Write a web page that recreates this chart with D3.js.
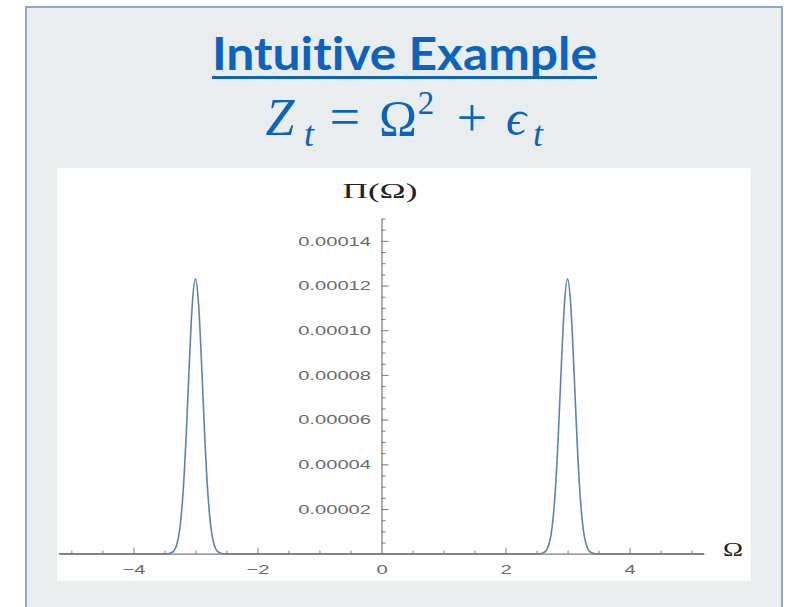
<!DOCTYPE html>
<html>
<head>
<meta charset="utf-8">
<script src="https://cdn.jsdelivr.net/npm/d3@7"></script>
<style>
  html, body { margin: 0; padding: 0; background: #ffffff; }
  svg { display: block; }
</style>
</head>
<body>
<div id="chart"></div>
<script>
// ---- data ----
const titleText = "Intuitive Example";
const yAxisLabel = "Π(Ω)";
const xAxisLabel = "Ω";

// x positions (Ω) of the plotted curve points
const omegaValues = [
  -5.2,
  -3.45, -3.40, -3.35, -3.30, -3.25, -3.20, -3.15, -3.10, -3.05, -3.00,
  -2.95, -2.90, -2.85, -2.80, -2.75, -2.70, -2.65, -2.60, -2.55,
  2.55, 2.60, 2.65, 2.70, 2.75, 2.80, 2.85, 2.90, 2.95, 3.00,
  3.05, 3.10, 3.15, 3.20, 3.25, 3.30, 3.35, 3.40, 3.45,
  5.2
];
// Π(Ω) values at those points
const piValues = [
  0,
  0, 0.0000003, 0.0000012, 0.0000041, 0.0000116, 0.0000271, 0.0000525, 0.0000843, 0.0001119, 0.000123,
  0.0001119, 0.0000843, 0.0000525, 0.0000271, 0.0000116, 0.0000041, 0.0000012, 0.0000003, 0,
  0, 0.0000003, 0.0000012, 0.0000041, 0.0000116, 0.0000271, 0.0000525, 0.0000843, 0.0001119, 0.000123,
  0.0001119, 0.0000843, 0.0000525, 0.0000271, 0.0000116, 0.0000041, 0.0000012, 0.0000003, 0,
  0
];

const xMajorTicks = [-4, -2, 0, 2, 4];
const xMinorTicks = [-5, -4.5, -3.5, -3, -2.5, -1.5, -1, -0.5, 0.5, 1, 1.5, 2.5, 3, 3.5, 4.5, 5];
const yMajorTicks = [0.00002, 0.00004, 0.00006, 0.00008, 0.00010, 0.00012, 0.00014];
const yMinorTicks = [0.000005, 0.00001, 0.000015, 0.000025, 0.00003, 0.000035, 0.000045, 0.00005, 0.000055,
  0.000065, 0.00007, 0.000075, 0.000085, 0.00009, 0.000095, 0.000105, 0.00011, 0.000115,
  0.000125, 0.00013, 0.000135, 0.000145, 0.00015];

// ---- drawing ----
const W = 792, H = 607;
const blue = "#0b63c1";
const svg = d3.select("#chart").append("svg").attr("width", W).attr("height", H);

// slide panel
svg.append("rect")
  .attr("x", 26).attr("y", 7).attr("width", 756).attr("height", 640)
  .attr("fill", "#e9edee").attr("stroke", "#8ea8c9").attr("stroke-width", 2);

// title
svg.append("text")
  .attr("x", 404.5).attr("y", 70)
  .attr("text-anchor", "middle")
  .attr("font-family", "Lato, 'Open Sans', sans-serif")
  .attr("font-weight", "bold")
  .attr("font-size", 46)
  .style("font-variant-ligatures", "none")
  .attr("fill", blue)
  .attr("textLength", 385).attr("lengthAdjust", "spacingAndGlyphs")
  .text(titleText);
svg.append("rect")
  .attr("x", 404.5 - 385 / 2).attr("y", 76).attr("width", 385).attr("height", 3)
  .attr("fill", blue);

// equation  Z_t = Ω^2 + ϵ_t
const eq = svg.append("g").attr("fill", blue).attr("font-family", "'Liberation Serif', 'DejaVu Serif', serif");
const eqParts = [
  { t: "Z", cx: 280, y: 135, size: 52, italic: true },
  { t: "t", cx: 309, y: 146, size: 36, italic: true },
  { t: "=", cx: 345, y: 135, size: 54, italic: false },
  { t: "Ω", cx: 398, y: 135, size: 51, italic: false },
  { t: "2", cx: 426, y: 114, size: 33, italic: false },
  { t: "+", cx: 472, y: 136, size: 54, italic: false },
  { t: "ϵ", cx: 516, y: 135, size: 50, italic: true },
  { t: "t", cx: 538, y: 146, size: 36, italic: true }
];
eq.selectAll("text").data(eqParts).join("text")
  .attr("x", d => d.cx).attr("y", d => d.y)
  .attr("text-anchor", "middle")
  .attr("font-size", d => d.size)
  .attr("font-style", d => d.italic ? "italic" : "normal")
  .text(d => d.t);

// plot area (white)
svg.append("rect")
  .attr("x", 57).attr("y", 168).attr("width", 694).attr("height", 413)
  .attr("fill", "#ffffff");

const x = d3.scaleLinear().domain([-5.2, 5.2]).range([59, 704]);
const y = d3.scaleLinear().domain([0, 0.00015]).range([553.7, 218.5]);

// curve
const pts = omegaValues.map((o, i) => [o, piValues[i]]);
svg.append("path")
  .datum(pts)
  .attr("fill", "none")
  .attr("stroke", "#5e81b5")
  .attr("stroke-width", 1.6)
  .attr("d", d3.line().x(d => x(d[0])).y(d => y(d[1])).curve(d3.curveMonotoneX));

const axisColor = "#7a7a7a";
const labelColor = "#6a6a6a";
const stretch = 1.55;

function styleAxis(g) {
  g.select(".domain").attr("stroke", axisColor).attr("stroke-width", 1.2);
  g.selectAll(".tick line").attr("stroke", axisColor).attr("stroke-width", 1);
  g.selectAll(".tick text")
    .attr("fill", labelColor)
    .attr("font-family", "'Liberation Sans', Arial, sans-serif")
    .attr("font-size", 13);
  g.selectAll(".tick text").each(function () {
    const len = this.getComputedTextLength();
    d3.select(this).attr("textLength", len * stretch).attr("lengthAdjust", "spacingAndGlyphs");
  });
}

// x axis minor ticks
const gxMinor = svg.append("g").attr("transform", "translate(0,553.7)")
  .call(d3.axisBottom(x).tickValues(xMinorTicks).tickSizeInner(-3).tickSizeOuter(0).tickFormat(""));
gxMinor.select(".domain").remove();
gxMinor.selectAll(".tick line").attr("stroke", axisColor);

// x axis major
const gx = svg.append("g").attr("transform", "translate(0,553.7)")
  .call(d3.axisBottom(x).tickValues(xMajorTicks).tickSizeInner(-6).tickSizeOuter(0).tickPadding(11)
    .tickFormat(d3.format("d")));
gx.selectAll(".tick").filter(d => d === 0).select("line").remove();
styleAxis(gx);

// y axis minor
const gyMinor = svg.append("g").attr("transform", "translate(381.5,0)")
  .call(d3.axisLeft(y).tickValues(yMinorTicks).tickSizeInner(-4).tickSizeOuter(0).tickFormat(""));
gyMinor.select(".domain").remove();
gyMinor.selectAll(".tick line").attr("stroke", axisColor);

// y axis major
const gy = svg.append("g").attr("transform", "translate(381.5,0)")
  .call(d3.axisLeft(y).tickValues(yMajorTicks).tickSizeInner(-7).tickSizeOuter(0).tickPadding(10.5)
    .tickFormat(d3.format(".5f")));
styleAxis(gy);

// axis labels
svg.append("text")
  .attr("x", 380).attr("y", 198)
  .attr("text-anchor", "middle")
  .attr("font-family", "'Liberation Serif', 'DejaVu Serif', serif")
  .attr("font-size", 20)
  .attr("fill", "#222")
  .attr("textLength", 75).attr("lengthAdjust", "spacingAndGlyphs")
  .text(yAxisLabel);

svg.append("text")
  .attr("x", 733).attr("y", 556)
  .attr("text-anchor", "middle")
  .attr("font-family", "'Liberation Serif', 'DejaVu Serif', serif")
  .attr("font-size", 19)
  .attr("fill", "#222")
  .attr("textLength", 20).attr("lengthAdjust", "spacingAndGlyphs")
  .text(xAxisLabel);
</script>
</body>
</html>
